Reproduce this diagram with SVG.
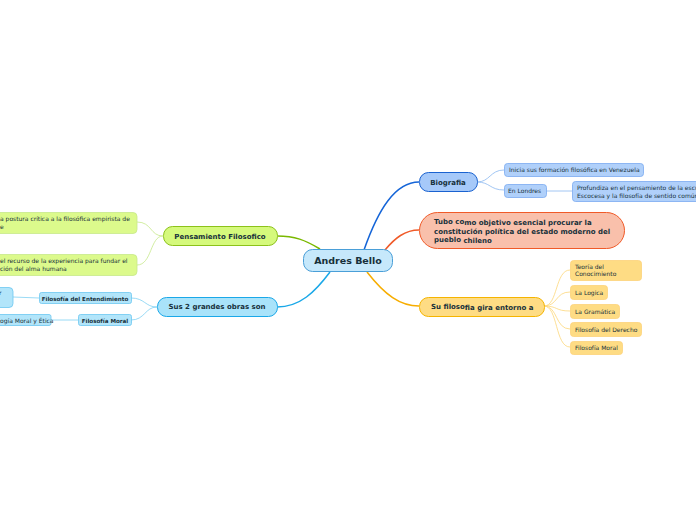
<svg xmlns="http://www.w3.org/2000/svg" width="696" height="520" viewBox="0 0 696 520">
<style>
text{font-family:"DejaVu Sans","Liberation Sans",sans-serif;fill:#17303a}
.b{font-weight:bold}
.s{font-size:6px}
.m{font-size:7px;font-weight:bold}
.c{stroke-width:1.5;fill:none}
.t{stroke-width:0.8;fill:none}
</style>
<rect width="696" height="520" fill="#ffffff"/>
<g id="connectors">
<path class="c" stroke="#1565d8" d="M364,250 C378,210 395,182 419,182"/>
<path class="c" stroke="#f05a28" d="M385,250 C395,238 405,230 419,230"/>
<path class="c" stroke="#f7ad00" d="M367,272 C385,295 400,306 419,306"/>
<path class="c" stroke="#7ab800" d="M320,249 C305,240 295,236 277,236"/>
<path class="c" stroke="#1aa8e8" d="M330,272 C315,292 300,307 277,307"/>
<path class="t" stroke="#8ab8f0" d="M477,182 C490,182 490,170 504,170"/>
<path class="t" stroke="#8ab8f0" d="M477,182 C490,182 490,190 504,190"/>
<path class="t" stroke="#8ab8f0" d="M546,191 L572,191"/>
<path class="t" stroke="#fcd77a" d="M544,306 C558,306 555,270 570,270"/>
<path class="t" stroke="#fcd77a" d="M544,306 C558,306 555,292 570,292"/>
<path class="t" stroke="#fcd77a" d="M544,306 C558,306 555,311 570,311"/>
<path class="t" stroke="#fcd77a" d="M544,306 C558,306 555,329 570,329"/>
<path class="t" stroke="#fcd77a" d="M544,306 C558,306 555,347 570,347"/>
<path class="t" stroke="#c6e98a" d="M163,236 C150,236 152,222 137,222"/>
<path class="t" stroke="#c6e98a" d="M163,236 C150,236 152,265 137,265"/>
<path class="t" stroke="#7fd0f2" d="M157,307 C145,307 145,298 131,298"/>
<path class="t" stroke="#7fd0f2" d="M157,307 C145,307 145,320 131,320"/>
<path class="t" stroke="#7fd0f2" d="M39,298 L13,297"/>
<path class="t" stroke="#7fd0f2" d="M78,320 L51,320"/>
</g>
<g id="center">
<rect x="303.5" y="249.5" width="89" height="22" rx="9" fill="#c6e8fb" stroke="#4a9fd8" stroke-width="1"/>
<text x="348" y="264" text-anchor="middle" class="b" font-size="9.5">Andres Bello</text>
</g>
<g id="biografia">
<rect x="419.5" y="172.5" width="58" height="19" rx="9" fill="#a6c9f9" stroke="#1a62d0" stroke-width="1"/>
<text x="448" y="184.5" text-anchor="middle" class="m">Biografia</text>
</g>
<g id="inicia">
<rect x="504.5" y="163.5" width="139" height="13" rx="3" fill="#b0d0fa" stroke="#7aaaf0" stroke-width="0.8"/>
<text x="509" y="172" class="s">Inicia sus formación filosófica en Venezuela</text>
</g>
<g id="londres">
<rect x="504.5" y="184.5" width="42" height="13" rx="3" fill="#b0d0fa" stroke="#7aaaf0" stroke-width="0.8"/>
<text x="508" y="193" class="s">En Londres</text>
</g>
<g id="profundiza">
<rect x="572.5" y="181.5" width="130" height="20" rx="3" fill="#b0d0fa" stroke="#7aaaf0" stroke-width="0.8"/>
<text x="577" y="189.5" class="s">Profundiza en el pensamiento de la escuela</text>
<text x="577" y="197.5" class="s">Escocesa y la filosofía de sentido común</text>
</g>
<g id="tubo">
<rect x="419.5" y="212.5" width="205" height="36" rx="18" fill="#f9c0ab" stroke="#f05a28" stroke-width="1"/>
<text x="434" y="223.5" class="m">Tubo co<tspan dy="1">mo objetivo esencial procurar la</tspan></text>
<text x="434" y="233.5" class="m">constitución política del estado moderno del</text>
<text x="434" y="241.5" class="m">pueblo <tspan dy="1">chileno</tspan></text>
</g>
<g id="filosofia">
<rect x="419.5" y="297.5" width="125" height="19" rx="9" fill="#fedc84" stroke="#f5b400" stroke-width="1"/>
<text x="431" y="309" class="m">Su filoso<tspan dy="0.5">fia gira entorno a</tspan></text>
</g>
<g id="teoria">
<rect x="570.5" y="260.5" width="71" height="20" rx="3" fill="#fedc84" stroke="#fcd27a" stroke-width="0.8"/>
<text x="575" y="268.5" class="s">Teoría del</text>
<text x="575" y="276" class="s">Conocimiento</text>
</g>
<g id="logica">
<rect x="570.5" y="285.5" width="37" height="14" rx="3" fill="#fedc84" stroke="#fcd27a" stroke-width="0.8"/>
<text x="575" y="294.5" class="s">La Logica</text>
</g>
<g id="gramatica">
<rect x="570.5" y="304.5" width="49" height="14" rx="3" fill="#fedc84" stroke="#fcd27a" stroke-width="0.8"/>
<text x="575" y="313.5" class="s">La Gramática</text>
</g>
<g id="derecho">
<rect x="570.5" y="322.5" width="71" height="14" rx="3" fill="#fedc84" stroke="#fcd27a" stroke-width="0.8"/>
<text x="575" y="331.5" class="s">Filosofía del Derecho</text>
</g>
<g id="moral-r">
<rect x="570.5" y="341.5" width="52" height="13" rx="3" fill="#fedc84" stroke="#fcd27a" stroke-width="0.8"/>
<text x="575" y="350" class="s">Filosofía Moral</text>
</g>
<g id="pensamiento">
<rect x="163.5" y="226.5" width="114" height="19" rx="9" fill="#d5f97c" stroke="#8cc21a" stroke-width="1"/>
<text x="220" y="238.5" text-anchor="middle" class="m">Pensamiento Filosofico</text>
</g>
<g id="postura">
<rect x="-20" y="212.5" width="157" height="21" rx="4" fill="#dcfa8c" stroke="#c6e98a" stroke-width="0.8"/>
<text x="0" y="220.5" class="s">a postura crítica a la filosófica empirista de</text>
<text x="0" y="228.5" class="s">e</text>
</g>
<g id="recurso">
<rect x="-20" y="254.5" width="157" height="21" rx="4" fill="#dcfa8c" stroke="#c6e98a" stroke-width="0.8"/>
<text x="0" y="262.5" class="s">el recurso de la experiencia para fundar el</text>
<text x="0" y="270.5" class="s">ción del alma humana</text>
</g>
<g id="obras">
<rect x="157.5" y="297.5" width="120" height="19" rx="9" fill="#a9e3fa" stroke="#1aa8e8" stroke-width="1"/>
<text x="217" y="309" text-anchor="middle" class="m">Sus 2 grandes obras son</text>
</g>
<g id="entendimiento">
<rect x="39.5" y="292.5" width="92" height="11" rx="2" fill="#b2e5fa" stroke="#6cc6f0" stroke-width="0.8"/>
<text x="85" y="300.5" text-anchor="middle" class="b" font-size="5.6">Filosofía del Entendimiento</text>
</g>
<g id="moral-l">
<rect x="78.5" y="314.5" width="53" height="11" rx="2" fill="#b2e5fa" stroke="#6cc6f0" stroke-width="0.8"/>
<text x="105" y="322.5" text-anchor="middle" class="b" font-size="5.6">Filosofía Moral</text>
</g>
<g id="entendimiento-child">
<rect x="-20" y="287.5" width="33" height="20" rx="4" fill="#b2e5fa" stroke="#6cc6f0" stroke-width="0.8"/>
<text x="-1" y="295" class="s">r</text>
</g>
<g id="moral-child">
<rect x="-20" y="314.5" width="71" height="11" rx="2" fill="#b2e5fa" stroke="#6cc6f0" stroke-width="0.8"/>
<text x="0" y="322.5" class="s" font-size="5.6">ogía Moral y Ética</text>
</g>
</svg>
